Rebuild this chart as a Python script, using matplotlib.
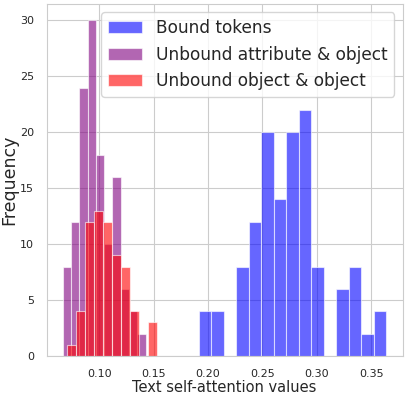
import numpy as np
import matplotlib
matplotlib.use("Agg")
import matplotlib.pyplot as plt
import seaborn as sns

# histogram counts (bin start, bin width, counts)
bound_start = 0.1916
bound_width = 0.01148
bound_counts = [4, 4, 0, 8, 12, 20, 14, 20, 22, 8, 0, 6, 8, 2, 4]

attr_start = 0.0667
attr_width = 0.00759
attr_counts = [8, 12, 24, 30, 18, 10, 16, 6, 4, 2]

obj_start = 0.0704
obj_width = 0.00829
obj_counts = [1, 4, 12, 13, 12, 9, 8, 4, 0, 3]

labels = ["Bound tokens", "Unbound attribute & object", "Unbound object & object"]
colors = ["blue", "purple", "red"]


def edges_of(start, width, counts):
    return start + width * np.arange(len(counts) + 1)


sns.set_style("whitegrid")
plt.rcParams['font.family'] = ['DejaVu Sans']

fig, ax = plt.subplots(figsize=(4.06, 3.96), dpi=100)
fig.subplots_adjust(left=0.115, right=0.9915, bottom=0.101, top=0.9907)

series = [(bound_start, bound_width, bound_counts),
          (attr_start, attr_width, attr_counts),
          (obj_start, obj_width, obj_counts)]
for (start, width, counts), label, color in zip(series, labels, colors):
    edges = edges_of(start, width, counts)
    centers = (edges[:-1] + edges[1:]) / 2
    ax.hist(centers, bins=edges, weights=counts, color=color, alpha=0.6,
            label=label, edgecolor="white", linewidth=0.8)

ax.set_yticks([0, 5, 10, 15, 20, 25, 30])
ax.tick_params(axis="both", labelsize=8, pad=5.5, colors=".15")
ax.set_xlabel("Text self-attention values", fontsize=10.5, labelpad=1)
ax.set_ylabel("Frequency", fontsize=12.5, labelpad=1.5)
ax.legend(loc="upper right", fontsize=12.25)

plt.savefig("out.png", dpi=100)
